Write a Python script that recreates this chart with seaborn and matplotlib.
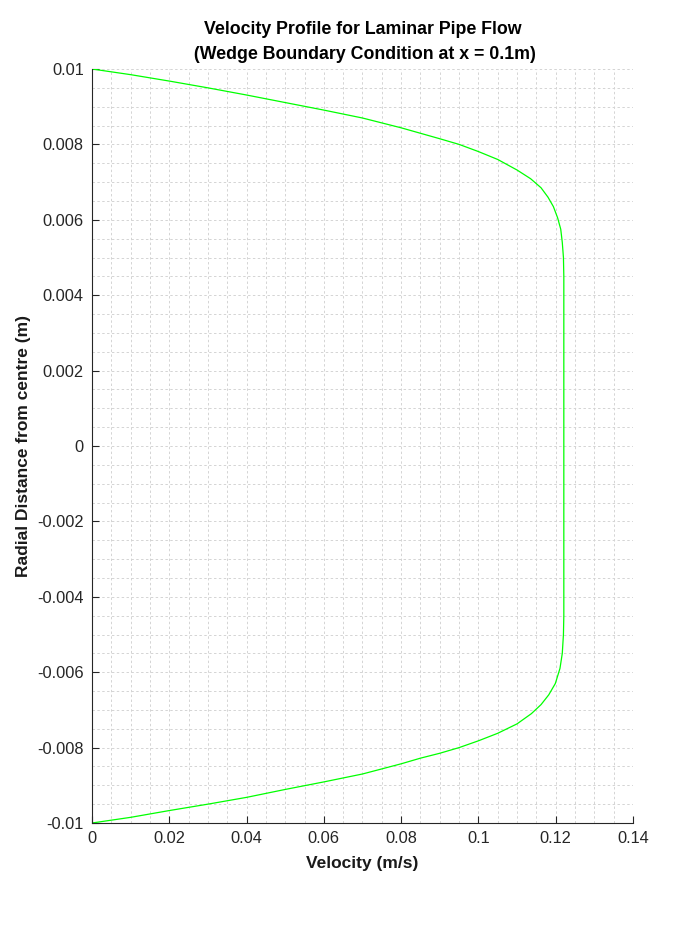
import matplotlib
matplotlib.use("Agg")
import matplotlib.pyplot as plt
import seaborn as sns
import pandas as pd
from matplotlib.ticker import MultipleLocator, FixedLocator

# ---- data ----
velocity_upper = [0.0, 0.01, 0.02, 0.03, 0.04, 0.05, 0.06, 0.07, 0.08, 0.09,
                  0.095, 0.1, 0.105, 0.11, 0.1135, 0.1162, 0.118, 0.1194, 0.1205, 0.1213,
                  0.1217, 0.122, 0.1221, 0.1221]
radius_upper = [0.01, 0.00985, 0.00968, 0.0095, 0.00931, 0.00911, 0.00891, 0.0087, 0.00844, 0.00815,
                0.0080, 0.00781, 0.0076, 0.00732, 0.00709, 0.00685, 0.0066, 0.00635, 0.00605, 0.00575,
                0.0054, 0.0050, 0.0045, 0.0]
velocity_lower = [0.1221, 0.1221, 0.122, 0.1217, 0.1211, 0.1199, 0.1182, 0.1162, 0.1137, 0.11,
                  0.105, 0.1, 0.095, 0.09, 0.085, 0.08, 0.07, 0.06, 0.05, 0.04, 0.03,
                  0.02, 0.01, 0.0]
radius_lower = [-0.0001, -0.0045, -0.005, -0.0055, -0.0059, -0.0063, -0.0066, -0.00686, -0.0071, -0.00737,
                -0.00762, -0.00782, -0.0080, -0.00815, -0.00828, -0.00843, -0.0087, -0.00891, -0.00911,
                -0.00932, -0.0095, -0.00967, -0.00985, -0.01]

xtick_values = [0, 0.02, 0.04, 0.06, 0.08, 0.1, 0.12, 0.14]
xtick_labels = ["0", "0.02", "0.04", "0.06", "0.08", "0.1", "0.12", "0.14"]
ytick_values = [-0.01, -0.008, -0.006, -0.004, -0.002, 0, 0.002, 0.004, 0.006, 0.008, 0.01]
ytick_labels = ["-0.01", "-0.008", "-0.006", "-0.004", "-0.002", "0",
                "0.002", "0.004", "0.006", "0.008", "0.01"]

title_text = "Velocity Profile for Laminar Pipe Flow\n (Wedge Boundary Condition at x = 0.1m)"
xlabel_text = "Velocity (m/s)"
ylabel_text = "Radial Distance from centre (m)"

df = pd.DataFrame({
    "velocity": velocity_upper + velocity_lower,
    "radius": radius_upper + radius_lower,
})

sns.set_theme(style="white")
plt.rcParams["font.family"] = ["Liberation Sans", "DejaVu Sans"]
plt.rcParams["axes.unicode_minus"] = False

fig = plt.figure(figsize=(7, 9.26), dpi=100)
ax = fig.add_axes([92 / 700, 103 / 926, 541 / 700, 754 / 926])

sns.lineplot(data=df, x="velocity", y="radius", sort=False, estimator=None,
             color="#00ff00", linewidth=0.9, ax=ax)

ax.set_xlim(0, 0.14)
ax.set_ylim(-0.01, 0.01)
ax.xaxis.set_major_locator(FixedLocator(xtick_values))
ax.set_xticklabels(xtick_labels)
ax.yaxis.set_major_locator(FixedLocator(ytick_values))
ax.set_yticklabels(ytick_labels)
ax.xaxis.set_minor_locator(MultipleLocator(0.005))
ax.yaxis.set_minor_locator(MultipleLocator(0.0005))

grid_kw = dict(color="#d4d4d4", linestyle=(0, (2.5, 2.5)), linewidth=0.7)
ax.grid(True, which="major", **grid_kw)
ax.grid(True, which="minor", **grid_kw)
ax.set_axisbelow(True)

for side in ["top", "right"]:
    ax.spines[side].set_visible(False)
for side in ["left", "bottom"]:
    ax.spines[side].set_color("#262626")
    ax.spines[side].set_linewidth(0.8)

ax.tick_params(which="major", direction="in", length=5, width=0.8,
               colors="#262626", labelsize=11.8, pad=6, left=True, bottom=True)
ax.tick_params(which="minor", length=0, left=False, bottom=False)

ax.set_xlabel(xlabel_text, fontsize=12.5, fontweight="bold", color="#1a1a1a", labelpad=7)
ax.set_ylabel(ylabel_text, fontsize=12.5, fontweight="bold", color="#1a1a1a", labelpad=4)
ax.set_title(title_text, fontsize=12.8, fontweight="bold", color="#000000", pad=7,
             linespacing=1.6)

fig.savefig("out.png", dpi=100, facecolor="white")
